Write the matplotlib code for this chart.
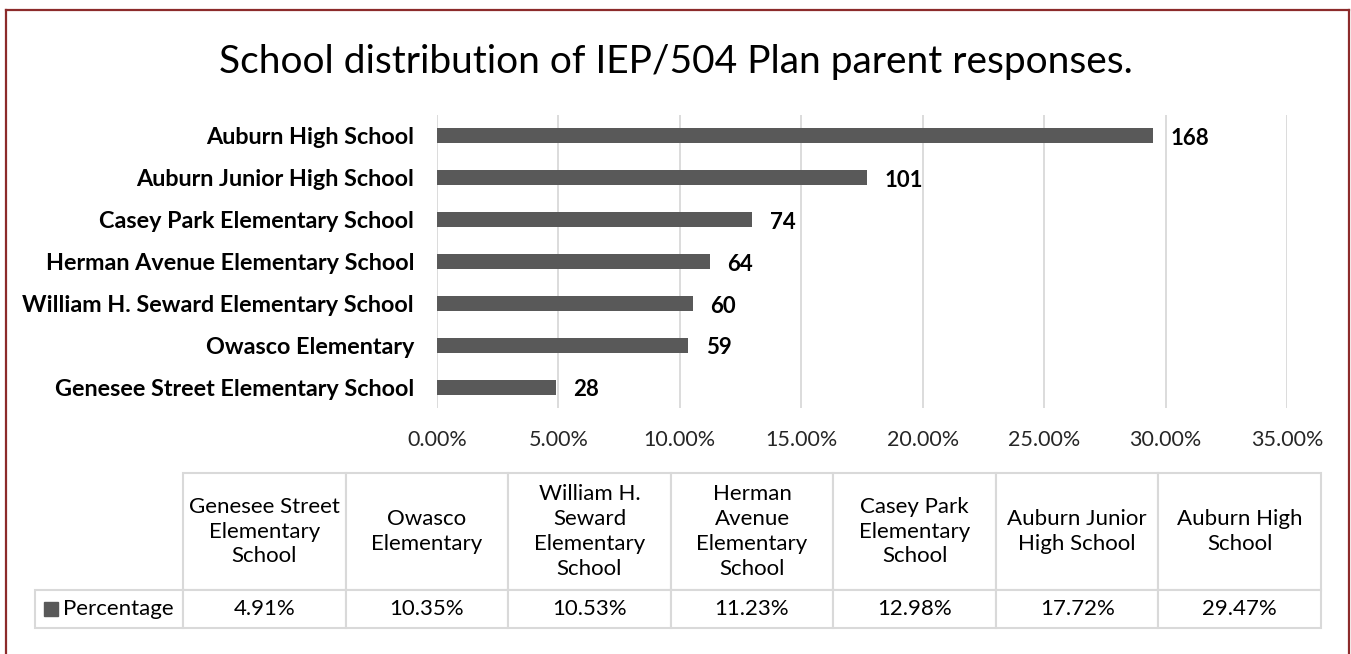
import matplotlib
matplotlib.use("Agg")
import matplotlib.pyplot as plt
from matplotlib.table import Table
from matplotlib.patches import Rectangle
from matplotlib.lines import Line2D
from matplotlib.ticker import FuncFormatter

plt.rcParams['font.family'] = ['Lato', 'DejaVu Sans']

# data (bottom to top in the bar chart, left to right in the table)
schools = ["Genesee Street Elementary School", "Owasco Elementary",
           "William H. Seward Elementary School", "Herman Avenue Elementary School",
           "Casey Park Elementary School", "Auburn Junior High School",
           "Auburn High School"]
header_labels = ["Genesee Street\nElementary\nSchool", "Owasco\nElementary",
                 "William H.\nSeward\nElementary\nSchool", "Herman\nAvenue\nElementary\nSchool",
                 "Casey Park\nElementary\nSchool", "Auburn Junior\nHigh School",
                 "Auburn High\nSchool"]
percentages = [4.91, 10.35, 10.53, 11.23, 12.98, 17.72, 29.47]
counts = [28, 59, 60, 64, 74, 101, 168]
x_ticks = [0, 5, 10, 15, 20, 25, 30, 35]
series_name = "Percentage"

W, H = 1351, 654
bar_color = "#595959"
grid_color = "#d9d9d9"
border_color = "#8c2b2b"

fig = plt.figure(figsize=(W / 100, H / 100), dpi=100)

# chart border (top, left, right)
for xs, ys in [((6, 1349), (10, 10)), ((6, 6), (10, 660)), ((1349, 1349), (10, 660))]:
    fig.add_artist(Line2D([x / W for x in xs], [1 - y / H for y in ys],
                          transform=fig.transFigure, color=border_color, lw=1.6))

fig.text(676 / W, 1 - 62 / H, "School distribution of IEP/504 Plan parent responses.",
         ha="center", va="center", fontsize=28, color="#000000")

# bar chart area
ax = fig.add_axes([437 / W, 1 - 408 / H, (1287 - 437) / W, (408 - 115) / H])
ypos = list(range(len(schools)))
ax.barh(ypos, percentages, height=0.36, color=bar_color, zorder=3)
ax.set_xlim(0, 35)
ax.set_ylim(-0.5, len(schools) - 0.5)
ax.set_xticks(x_ticks)
ax.xaxis.set_major_formatter(FuncFormatter(lambda v, p: f"{v:.2f}%"))
ax.set_yticks(ypos)
ax.set_yticklabels(schools, fontweight="bold", fontsize=16.8)
ax.tick_params(axis="y", length=0, pad=16.5, colors="#000000")
ax.tick_params(axis="x", length=0, pad=16, labelsize=15.5, colors="#262626")
ax.grid(axis="x", color=grid_color, lw=1.3, zorder=0)
for s in ax.spines.values():
    s.set_visible(False)

for y, p, c in zip(ypos, percentages, counts):
    ax.annotate(str(c), (p, y), xytext=(12.5, -2), textcoords="offset points",
                ha="left", va="center", fontsize=16, fontweight="bold",
                color="#000000")

# data table below
tax = fig.add_axes([35 / W, 1 - 628 / H, (1321 - 35) / W, (628 - 473) / H])
tax.axis("off")
tbl = Table(tax, bbox=[0, 0, 1, 1])
col_w = (1321 - 183) / len(schools)
lab_w = 183 - 35
head_h, row_h = 117, 38
for j, lab in enumerate(header_labels):
    tbl.add_cell(0, j + 1, col_w, head_h, text=lab, loc="center", edgecolor=grid_color)
    tbl.add_cell(1, j + 1, col_w, row_h, text=f"{percentages[j]:.2f}%", loc="center",
                 edgecolor=grid_color)
cell = tbl.add_cell(1, 0, lab_w, row_h, text=series_name, loc="left", edgecolor=grid_color)
cell.PAD = 0.19
tbl.auto_set_font_size(False)
tbl.set_fontsize(16)
for c in tbl.get_celld().values():
    c.set_linewidth(1.5)
    c.get_text().set_color("#000000")
    c.get_text().set_linespacing(1.3)
tax.add_table(tbl)

# legend key in the row label cell
fig.add_artist(Rectangle((44 / W, 1 - 616 / H), 14 / W, 14 / H,
                         transform=fig.transFigure, color=bar_color))

fig.savefig("out.png", dpi=100)
